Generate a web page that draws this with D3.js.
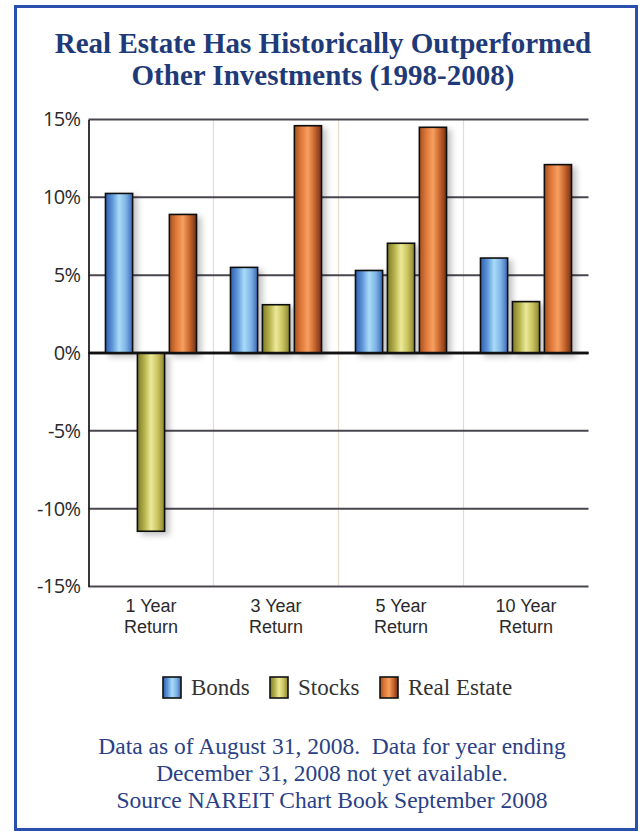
<!DOCTYPE html>
<html><head><meta charset="utf-8">
<script src="https://cdn.jsdelivr.net/npm/d3@7/dist/d3.min.js"></script>
<style>body{margin:0;background:#fff}svg{display:block}</style>
</head><body>
<script>
const categories = ["1 Year|Return","3 Year|Return","5 Year|Return","10 Year|Return"];
const seriesNames = ["Bonds","Stocks","Real Estate"];
const bonds = [10.25, 5.5, 5.3, 6.1];
const stocks = [-11.45, 3.1, 7.05, 3.3];
const realEstate = [8.9, 14.6, 14.5, 12.1];
const yTicks = [15,10,5,0,-5,-10,-15];
const titleLines = ["Real Estate Has Historically Outperformed","Other Investments (1998-2008)"];
const footerLines = ["Data as of August 31, 2008.  Data for year ending","December 31, 2008 not yet available.","Source NAREIT Chart Book September 2008"];

const W=642,H=832;
const svg=d3.select("body").append("svg").attr("width",W).attr("height",H);
const defs=svg.append("defs");
const grads=[
  {id:"gB",stops:["#2f5fb0","#5d95d8","#a9dcf8","#7fb4e6","#3a68b8"]},
  {id:"gS",stops:["#7d7a28","#b3b04a","#ecea98","#c9c25e","#8a8530"]},
  {id:"gR",stops:["#a3501f","#e0783a","#f6a060","#c8642c","#6e3218"]}
];
grads.forEach(g=>{
  const lg=defs.append("linearGradient").attr("id",g.id).attr("x1","0%").attr("x2","100%");
  g.stops.forEach((c,i)=>lg.append("stop").attr("offset",(i/(g.stops.length-1)*100)+"%").attr("stop-color",c));
});
const f=defs.append("filter").attr("id","sh").attr("x","-30%").attr("y","-10%").attr("width","180%").attr("height","130%");
f.append("feGaussianBlur").attr("in","SourceAlpha").attr("stdDeviation",3);
f.append("feOffset").attr("dx",4).attr("dy",3).attr("result","b");
f.append("feComponentTransfer").append("feFuncA").attr("type","linear").attr("slope",0.25);
const m=f.append("feMerge");m.append("feMergeNode");m.append("feMergeNode").attr("in","SourceGraphic");

// frame
svg.append("rect").attr("x",15.5).attr("y",6.5).attr("width",621).attr("height",823)
  .attr("fill","#fff").attr("stroke","#2b4fae").attr("stroke-width",3);

// title
svg.append("g").selectAll("text").data(titleLines).join("text")
  .attr("x",323).attr("y",(d,i)=>53+i*32).attr("text-anchor","middle")
  .style("font-family","'Liberation Serif', 'Times New Roman', serif").style("font-weight","bold")
  .style("font-size","29px").attr("fill","#1f3a78").text(d=>d);

const L=88.5,R=588.5,T=119.5,B=586.5;
const y=d3.scaleLinear().domain([-15,15]).range([B,T]);
const x0=d3.scaleBand().domain(categories).range([L,R]).paddingInner(0).paddingOuter(0);
const x1=d3.scaleBand().domain(seriesNames).range([17,108]).paddingInner(0.15);

// vertical gridlines
svg.append("g").selectAll("line").data(categories.slice(1)).join("line")
  .attr("x1",d=>x0(d)).attr("x2",d=>x0(d)).attr("y1",T).attr("y2",B)
  .attr("stroke","#e6dccb").attr("stroke-width",1.2);

// horizontal gridlines
svg.append("g").selectAll("line").data(yTicks).join("line")
  .attr("x1",L).attr("x2",R).attr("y1",d=>y(d)).attr("y2",d=>y(d))
  .attr("stroke",d=>d===0?"#111":"#4a4650").attr("stroke-width",d=>d===0?2.6:2);

// y axis
const ya=svg.append("g").attr("transform",`translate(${L},0)`)
  .call(d3.axisLeft(y).tickValues(yTicks).tickSize(0).tickPadding(8).tickFormat(d=>d+"%"));
ya.select(".domain").attr("stroke","#222").attr("stroke-width",1.8);
ya.selectAll("text").style("font-family","'Open Sans', sans-serif").style("font-size","20px")
  .attr("fill","#2a2a2a").style("letter-spacing","-0.6px");

// bars
const data=[bonds,stocks,realEstate];
const fills=["url(#gB)","url(#gS)","url(#gR)"];
const gBars=svg.append("g");
categories.forEach((c,ci)=>{
  seriesNames.forEach((s,si)=>{
    const v=data[si][ci];
    gBars.append("rect")
      .attr("x",x0(c)+x1(s)).attr("width",x1.bandwidth())
      .attr("y",y(Math.max(0,v))).attr("height",Math.abs(y(v)-y(0)))
      .attr("fill",fills[si]).attr("stroke","#111").attr("stroke-width",1.6)
      .attr("filter","url(#sh)");
  });
});
// redraw zero line on top
svg.append("line").attr("x1",L).attr("x2",R).attr("y1",y(0)).attr("y2",y(0))
  .attr("stroke","#111").attr("stroke-width",2.6);

// category labels (two separate lines each)
const catLines=[];
categories.forEach(c=>c.split("|").forEach((t,i)=>catLines.push({c,t,i})));
svg.append("g").selectAll("text").data(catLines).join("text")
  .attr("x",d=>x0(d.c)+x0.bandwidth()/2).attr("y",d=>612+d.i*21).attr("text-anchor","middle")
  .style("font-family","'Liberation Sans', Arial, sans-serif").style("font-size","18px")
  .attr("fill","#2a2a2a").text(d=>d.t);

// legend
const legX=[163,270,380];
const lg=svg.append("g").selectAll("g").data(seriesNames).join("g")
  .attr("transform",(d,i)=>`translate(${legX[i]},677)`);
lg.append("rect").attr("width",18).attr("height",21).attr("fill",(d,i)=>fills[i])
  .attr("stroke","#111").attr("stroke-width",1.6);
lg.append("text").attr("x",28).attr("y",18).style("font-family","'Liberation Serif', serif")
  .style("font-size","23px").attr("fill","#333").text(d=>d);

// footer
svg.append("g").selectAll("text").data(footerLines).join("text")
  .attr("x",332).attr("y",(d,i)=>754+i*27).attr("text-anchor","middle")
  .style("font-family","'Liberation Serif', serif").style("font-size","23.5px")
  .style("white-space","pre").attr("xml:space","preserve")
  .attr("fill","#2a3f86").text(d=>d);
</script>
</body></html>
